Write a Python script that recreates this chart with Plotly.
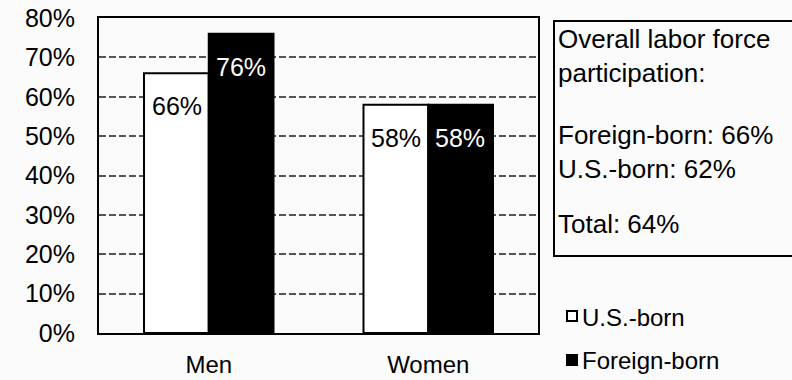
import plotly.graph_objects as go

# Labor force participation by sex and nativity
groups = ["Men", "Women"]
us_born = [66, 58]
foreign_born = [76, 58]
y_ticks = [0, 10, 20, 30, 40, 50, 60, 70, 80]
y_tick_labels = ["0%", "10%", "20%", "30%", "40%", "50%", "60%", "70%", "80%"]
overall_heading = ["Overall labor force", "participation:"]
overall_rates = ["Foreign-born: 66%", "U.S.-born: 62%"]
overall_total = "Total: 64%"
series_names = ["U.S.-born", "Foreign-born"]
series_fill = ["white", "black"]

W, H = 792, 380
L, R, T, B = 99, 538, 18, 333
FONT = "Liberation Sans, Arial, sans-serif"


def px_x(p):
    return (p - L) / (R - L)


def px_y(p):
    return (B - p) / (B - T)


fig = go.Figure()
for name, vals, fill in zip(series_names, [us_born, foreign_born], series_fill):
    fig.add_trace(go.Bar(
        name=name, x=groups, y=vals, showlegend=False,
        marker=dict(color=fill, line=dict(color="black", width=2)),
    ))

# value labels inside the bars, near the top
bar_half = 32
for g, v in zip(groups, us_born):
    fig.add_annotation(x=g, y=v, xshift=-bar_half, yshift=-33, text=f"{v}%",
                       showarrow=False, font=dict(family=FONT, size=25, color="black"))
for g, v in zip(groups, foreign_born):
    fig.add_annotation(x=g, y=v, xshift=bar_half, yshift=-33, text=f"{v}%",
                       showarrow=False, font=dict(family=FONT, size=25, color="white"))

# side box with overall participation
fig.add_shape(type="rect", xref="paper", yref="paper",
              x0=px_x(554), x1=px_x(800), y0=px_y(256), y1=px_y(21),
              line=dict(color="black", width=2), fillcolor="rgba(0,0,0,0)")
box_blocks = [("<br>".join(overall_heading), 56),
              ("<br>".join(overall_rates), 152),
              (overall_total, 224)]
for txt, cy in box_blocks:
    fig.add_annotation(xref="paper", yref="paper", x=px_x(556), y=px_y(cy),
                       xanchor="left", yanchor="middle", text=txt, showarrow=False,
                       align="left", font=dict(family=FONT, size=26, color="black"))

# key for the two series
key_rows = [316, 360]
for name, fill, cy in zip(series_names, series_fill, key_rows):
    fig.add_shape(type="rect", xref="paper", yref="paper",
                  x0=px_x(567), x1=px_x(577), y0=px_y(cy + 5), y1=px_y(cy - 5),
                  line=dict(color="black", width=2), fillcolor=fill)
    fig.add_annotation(xref="paper", yref="paper", x=px_x(580), y=px_y(cy + 1),
                       xanchor="left", yanchor="middle", text=name, showarrow=False,
                       font=dict(family=FONT, size=24, color="black"))

fig.update_layout(
    width=W, height=H,
    margin=dict(l=L, r=W - R, t=T, b=H - B, pad=0, autoexpand=False),
    paper_bgcolor="#fbfbfb", plot_bgcolor="#fbfbfb",
    barmode="group", bargap=0.41, bargroupgap=0,
    font=dict(family=FONT, size=24, color="black"),
    showlegend=False,
)
fig.update_xaxes(showline=True, linecolor="black", linewidth=2, mirror=True,
                 showgrid=False, ticks="", ticklabelstandoff=9, automargin=False,
                 tickfont=dict(family=FONT, size=24))
fig.update_yaxes(range=[0, 80], tickvals=y_ticks, ticktext=y_tick_labels,
                 showline=True, linecolor="black", linewidth=2, mirror=True,
                 showgrid=True, gridcolor="#555555", gridwidth=2, griddash="7px,3px",
                 zeroline=False, ticks="", ticklabelstandoff=17, automargin=False,
                 tickfont=dict(family=FONT, size=25))

fig.write_html("out.html")
